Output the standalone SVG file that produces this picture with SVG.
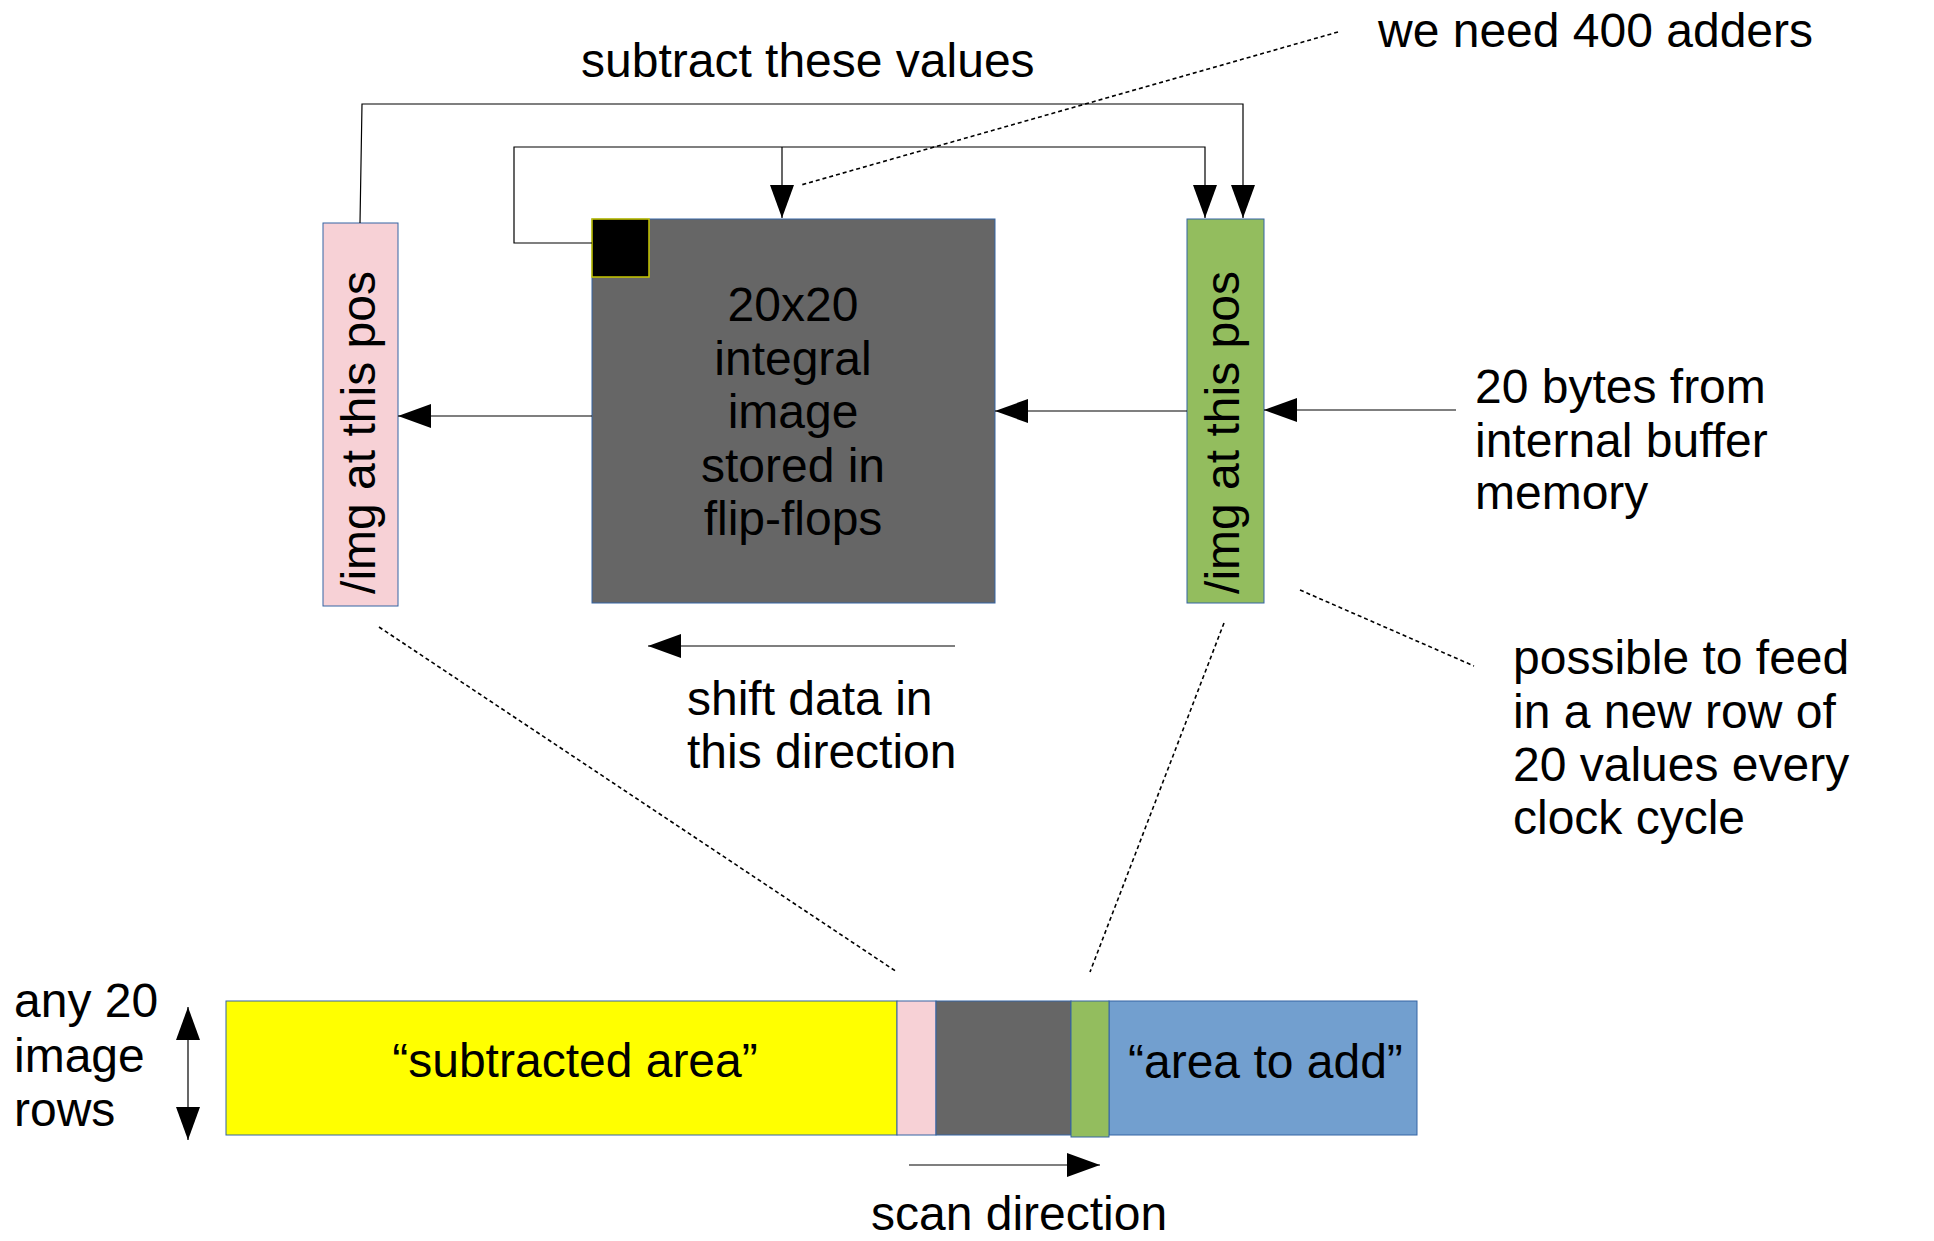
<svg xmlns="http://www.w3.org/2000/svg" width="1934" height="1241" viewBox="0 0 1934 1241">
  <defs>
    <style>
      text { font-family: "Liberation Sans", Arial, sans-serif; font-size: 48px; fill: #000; }
      .mid { text-anchor: middle; }
      .box { stroke: #3465a4; stroke-width: 1; }
      .wire { fill: none; stroke: #000; stroke-width: 1.2; }
      .dash { fill: none; stroke: #000; stroke-width: 1.6; stroke-dasharray: 4 3; }
    </style>
    <marker id="arrow" markerUnits="userSpaceOnUse" markerWidth="34" markerHeight="24" viewBox="0 0 34 24" refX="33" refY="12" orient="auto-start-reverse">
      <path d="M0,0 L33,12 L0,24 Z" fill="#000"/>
    </marker>
  </defs>

  <rect width="1934" height="1241" fill="#fff"/>

  <!-- upper row: subtract column, register array, add column -->
  <g id="sub-column">
    <rect class="box" x="323" y="223" width="75" height="383" fill="#f7d1d6"/>
    <text class="mid" transform="translate(375,432.5) rotate(-90)">/img at this pos</text>
  </g>

  <g id="integral-array">
    <rect class="box" x="592" y="219" width="403" height="384" fill="#666666"/>
    <text class="mid" x="793" y="321">20x20</text>
    <text class="mid" x="793" y="374.5">integral</text>
    <text class="mid" x="793" y="428">image</text>
    <text class="mid" x="793" y="481.5">stored in</text>
    <text class="mid" x="793" y="535">flip-flops</text>
  </g>

  <g id="corner-cell">
    <rect x="592" y="219" width="57" height="58" fill="#000" stroke="#c8c800" stroke-width="1.5"/>
  </g>

  <g id="add-column">
    <rect class="box" x="1187" y="219" width="77" height="384" fill="#93bd5e"/>
    <text class="mid" transform="translate(1239,432.5) rotate(-90)">/img at this pos</text>
  </g>

  <!-- bottom strip of the image -->
  <g id="strip">
    <rect class="box" x="226" y="1001" width="671" height="134" fill="#ffff00"/>
    <rect class="box" x="897" y="1001" width="39" height="134" fill="#f7d1d6"/>
    <rect class="box" x="936" y="1001" width="135" height="134" fill="#666666"/>
    <rect class="box" x="1109" y="1001" width="308" height="134" fill="#729fcf"/>
    <rect class="box" x="1071" y="1001" width="38" height="136" fill="#93bd5e"/>
    <text class="mid" x="575" y="1077">“subtracted area”</text>
    <text x="1128" y="1078">“area to add”</text>
  </g>

  <!-- free labels -->
  <g id="labels">
    <text x="581" y="77">subtract these values</text>
    <text x="1378" y="47">we need 400 adders</text>
    <text x="1475" y="403">20 bytes from</text>
    <text x="1475" y="457">internal buffer</text>
    <text x="1475" y="509">memory</text>
    <text x="1513" y="674">possible to feed</text>
    <text x="1513" y="728">in a new row of</text>
    <text x="1513" y="781">20 values every</text>
    <text x="1513" y="834">clock cycle</text>
    <text x="687" y="715">shift data in</text>
    <text x="687" y="768">this direction</text>
    <text x="14" y="1017">any 20</text>
    <text x="14" y="1072">image</text>
    <text x="14" y="1126">rows</text>
    <text x="871" y="1230">scan direction</text>
  </g>

  <!-- connectors -->
  <g id="connectors">
    <line class="wire" x1="592" y1="416" x2="398" y2="416" marker-end="url(#arrow)"/>
    <line class="wire" x1="1187" y1="411" x2="995" y2="411" marker-end="url(#arrow)"/>
    <line class="wire" x1="1456" y1="410" x2="1264" y2="410" marker-end="url(#arrow)"/>
    <polyline class="wire" points="360,223 362,104 1243,104 1243,218" marker-end="url(#arrow)"/>
    <polyline class="wire" points="592,243 514,243 514,147 1205,147 1205,218" marker-end="url(#arrow)"/>
    <line class="wire" x1="782" y1="147" x2="782" y2="218" marker-end="url(#arrow)"/>
    <line class="wire" x1="955" y1="646" x2="648" y2="646" marker-end="url(#arrow)"/>
    <line class="wire" x1="909" y1="1165" x2="1100" y2="1165" marker-end="url(#arrow)"/>
    <line class="wire" x1="188" y1="1140" x2="188" y2="1007" marker-start="url(#arrow)" marker-end="url(#arrow)"/>

    <line class="dash" x1="1338" y1="32" x2="801" y2="185"/>
    <line class="dash" x1="1300" y1="590" x2="1474" y2="666"/>
    <line class="dash" x1="379" y1="627" x2="897" y2="972"/>
    <line class="dash" x1="1224" y1="623" x2="1090" y2="972"/>
  </g>
</svg>
